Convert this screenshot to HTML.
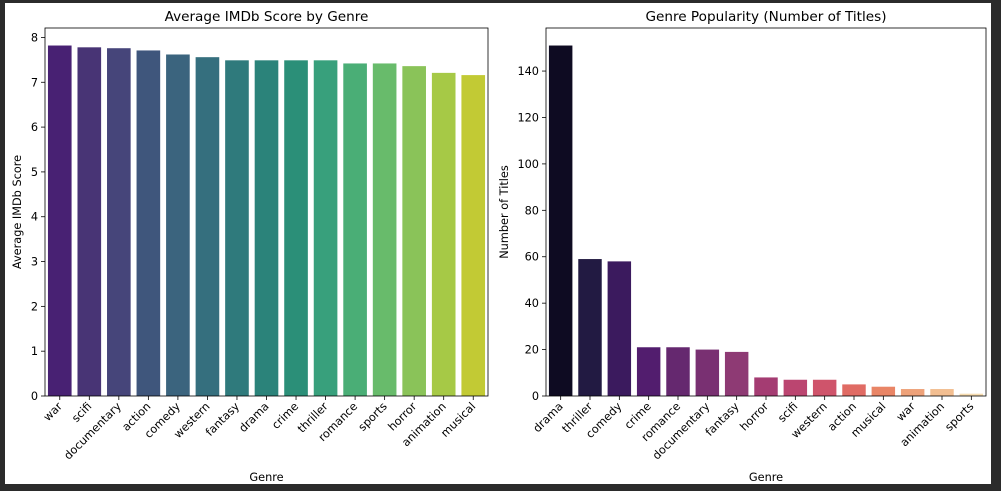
<!DOCTYPE html>
<html><head><meta charset="utf-8"><style>
body{margin:0;background:#2b2b2b;}
svg{display:block;font-family:"DejaVu Sans","Liberation Sans",sans-serif;}
</style></head><body>
<svg id="c" width="1001" height="491">
<rect x="5" y="3" width="986" height="481" fill="#fff"/>
</svg>
<script>
const scoreGenres=["war","scifi","documentary","action","comedy","western","fantasy","drama","crime","thriller","romance","sports","horror","animation","musical"];
const scoreValues=[7.82,7.78,7.76,7.71,7.62,7.56,7.49,7.49,7.49,7.49,7.42,7.42,7.36,7.21,7.16];
const scoreTicks=[0,1,2,3,4,5,6,7,8];
const countGenres=["drama","thriller","comedy","crime","romance","documentary","fantasy","horror","scifi","western","action","musical","war","animation","sports"];
const countValues=[151,59,58,21,21,20,19,8,7,7,5,4,3,3,1];
const countTicks=[0,20,40,60,80,100,120,140];
const viridis=["#482173","#483475","#46457a","#3f567c","#3b647e","#356f7e","#2f7a7c","#2b837a","#2b8f78","#38a07c","#4aae76","#68bb6b","#8ac359","#a6c946","#c2ca34"];
const magma=["#0e0b22","#221a42","#3b1a5e","#521d6e","#65286f","#793072","#8e3a74","#a43c72","#bb4570","#cf546b","#e06b64","#e98566","#eea27a","#f2be91","#f7dcb0"];
const svg=document.getElementById('c');
const NS='http://www.w3.org/2000/svg';
function mk(tag,attrs,parent){const e=document.createElementNS(NS,tag);for(const k in attrs)e.setAttribute(k,attrs[k]);(parent||svg).appendChild(e);return e;}
function chart(o){
  const g=mk('g',{});
  
  
  const ymax=Math.max(...o.vals)*1.05;
  const ys=v=>o.y1-(v/ymax)*(o.y1-o.y0);
  const slot=(o.x1-o.x0)/o.cats.length;
  const xs=i=>o.x0+slot*(i+0.5);
  o.vals.forEach((v,i)=>{
    const r=mk('rect',{x:xs(i)-slot*0.4,y:ys(v),width:slot*0.8,height:o.y1-ys(v),fill:o.colors[i]},g);
    
    
    mk('line',{x1:xs(i),x2:xs(i),y1:o.y1,y2:o.y1+4,stroke:'#000','stroke-width':0.8},g);
    const t=mk('text',{x:xs(i)+3,y:o.y1+11,'font-size':11.3,'text-anchor':'end',transform:`rotate(-45 ${xs(i)+3} ${o.y1+11})`},g);
    t.textContent=o.cats[i];
    
    
  });
  o.ticks.forEach(v=>{
    mk('line',{x1:o.x0-4,x2:o.x0,y1:ys(v),y2:ys(v),stroke:'#000','stroke-width':0.8},g);
    const t=mk('text',{x:o.x0-7,y:ys(v)+4,'font-size':11.3,'text-anchor':'end'},g);
    t.textContent=v;
    
    
  });
  const f=mk('rect',{x:o.x0,y:o.y0,width:o.x1-o.x0,height:o.y1-o.y0,fill:'none',stroke:'#000','stroke-width':0.8},g);
  
  
  const ti=mk('text',{x:(o.x0+o.x1)/2,y:o.y0-7,'font-size':13.6,'text-anchor':'middle'},g);
  ti.textContent=o.title;
  
  
  const xl=mk('text',{x:(o.x0+o.x1)/2,y:481,'font-size':11.3,'text-anchor':'middle'},g);
  xl.textContent='Genre';
  
  
  const cy=(o.y0+o.y1)/2;
  const yl=mk('text',{x:o.ylx,y:cy,'font-size':11.3,'text-anchor':'middle',transform:`rotate(-90 ${o.ylx} ${cy})`},g);
  yl.textContent=o.ytitle;
  
  
}
chart({name:'score-chart',x0:45,x1:488,y0:28,y1:396,cats:scoreGenres,vals:scoreValues,ticks:scoreTicks,colors:viridis,title:'Average IMDb Score by Genre',ytitle:'Average IMDb Score',ylx:21});
chart({name:'popularity-chart',x0:546,x1:986,y0:28,y1:396,cats:countGenres,vals:countValues,ticks:countTicks,colors:magma,title:'Genre Popularity (Number of Titles)',ytitle:'Number of Titles',ylx:508});
</script>
</body></html>
